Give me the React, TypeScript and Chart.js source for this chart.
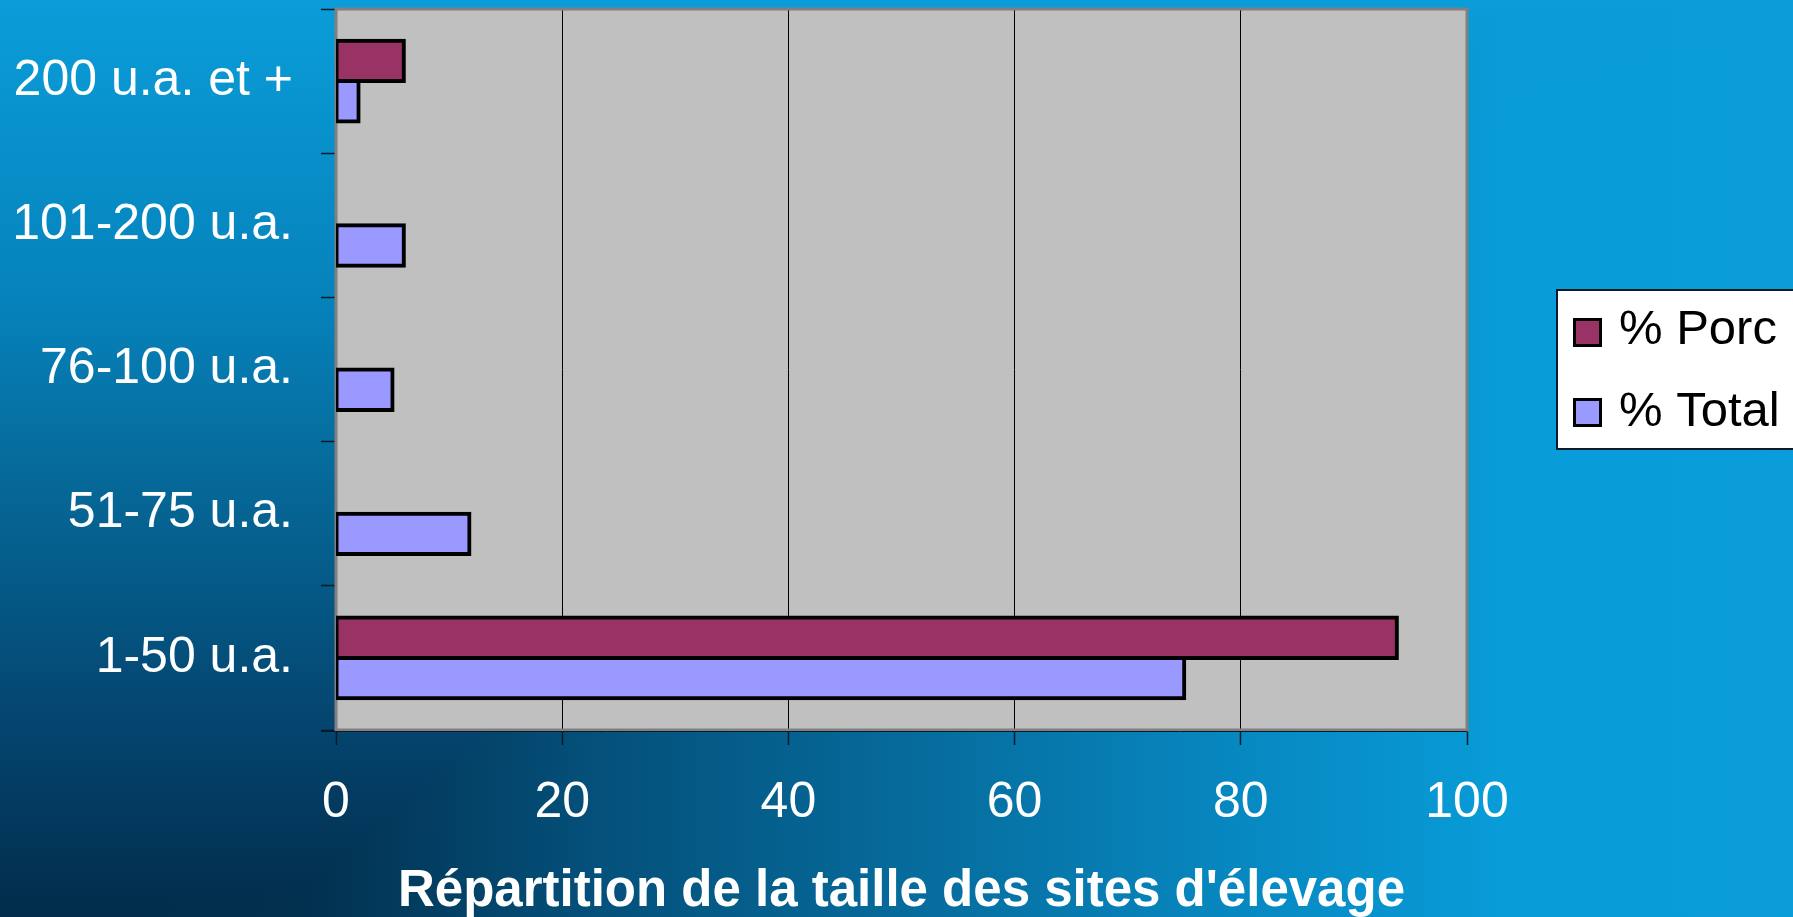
import React, { useEffect, useRef } from "react";
import { Chart, registerables } from "chart.js";

Chart.register(...registerables);

// ---------- data ----------
const categories = ["200 u.a. et +", "101-200 u.a.", "76-100 u.a.", "51-75 u.a.", "1-50 u.a."];
const porcValues: (number | null)[] = [6, null, null, null, 93.8];
const totalValues: (number | null)[] = [2, 6, 5, 11.8, 75];
const seriesLabels = ["% Porc", "% Total"];
const seriesColors = ["#993366", "#9999FF"];
const xTicks = [0, 20, 40, 60, 80, 100];
const axisTitle = "Répartition de la taille des sites d'élevage";

// ---------- layout constants ----------
const W = 1793;
const H = 917;
const FONT = "'Liberation Sans', Arial, sans-serif";

const bgPlugin = {
  id: "slideBackground",
  beforeDraw(chart: any) {
    const { ctx, chartArea: a } = chart;
    ctx.save();
    const vg = ctx.createLinearGradient(0, 0, 0, H);
    vg.addColorStop(0, "#0a9dd9");
    vg.addColorStop(0.33, "#0682bb");
    vg.addColorStop(0.5, "#066c9c");
    vg.addColorStop(0.66, "#055683");
    vg.addColorStop(0.82, "#04416a");
    vg.addColorStop(1, "#022c4a");
    ctx.fillStyle = vg;
    ctx.fillRect(0, 0, W, H);
    ctx.globalCompositeOperation = "lighten";
    const hg = ctx.createLinearGradient(0, 0, W, 0);
    hg.addColorStop(0, "#022c4a");
    hg.addColorStop(0.17, "#02304f");
    hg.addColorStop(0.33, "#04507a");
    hg.addColorStop(0.5, "#066a9a");
    hg.addColorStop(0.67, "#0785bd");
    hg.addColorStop(0.84, "#089cd8");
    hg.addColorStop(1, "#0a9dd9");
    ctx.fillStyle = hg;
    ctx.fillRect(0, 0, W, H);
    ctx.globalCompositeOperation = "source-over";
    ctx.fillStyle = "#C0C0C0";
    ctx.fillRect(a.left, a.top, a.right - a.left, a.bottom - a.top);
    ctx.restore();
  },
  beforeDatasetsDraw(chart: any) {
    const { ctx, chartArea: a } = chart;
    ctx.save();
    ctx.strokeStyle = "#808080";
    ctx.lineWidth = 3;
    ctx.strokeRect(a.left, a.top, a.right - a.left, a.bottom - a.top);
    ctx.strokeStyle = "#0a1a28";
    ctx.lineWidth = 1;
    ctx.beginPath();
    ctx.moveTo(a.left - 15, a.bottom + 1.5);
    ctx.lineTo(a.right, a.bottom + 1.5);
    ctx.stroke();
    ctx.restore();
  },
  afterDraw(chart: any) {
    const { ctx } = chart;
    ctx.save();
    // legend box
    ctx.fillStyle = "#ffffff";
    ctx.fillRect(1557, 290, 300, 159);
    ctx.strokeStyle = "#0a1a28";
    ctx.lineWidth = 2;
    ctx.strokeRect(1557, 290, 300, 159);
    const rows = [
      { y: 318, base: 344 },
      { y: 398, base: 426 },
    ];
    chart.data.datasets.forEach((ds: any, i: number) => {
      const r = rows[i];
      ctx.fillStyle = "#000";
      ctx.fillRect(1573, r.y, 29, 29);
      ctx.fillStyle = ds.backgroundColor;
      ctx.fillRect(1576, r.y + 3, 23, 23);
      ctx.fillStyle = "#000";
      ctx.font = `49px ${FONT}`;
      ctx.textBaseline = "alphabetic";
      ctx.textAlign = "left";
      ctx.fillText(ds.label, 1619, r.base);
    });
    ctx.restore();
  },
};

export default function App() {
  const ref = useRef<HTMLCanvasElement | null>(null);

  useEffect(() => {
    if (!ref.current) return;
    const chart = new Chart(ref.current, {
      type: "bar",
      data: {
        labels: categories,
        datasets: [
          {
            label: seriesLabels[0],
            data: porcValues,
            backgroundColor: seriesColors[0],
            borderColor: "#000",
            borderWidth: 4,
            borderSkipped: false,
            inflateAmount: 2,
            categoryPercentage: 0.56,
            barPercentage: 1,
          },
          {
            label: seriesLabels[1],
            data: totalValues,
            backgroundColor: seriesColors[1],
            borderColor: "#000",
            borderWidth: 4,
            borderSkipped: false,
            inflateAmount: 2,
            categoryPercentage: 0.56,
            barPercentage: 1,
          },
        ],
      } as any,
      options: {
        indexAxis: "y",
        responsive: false,
        animation: false,
        devicePixelRatio: 1,
        layout: { padding: { top: 9, right: W - 1467, left: 0, bottom: 0 } },
        plugins: {
          legend: { display: false },
          tooltip: { enabled: false },
          title: { display: false },
        },
        scales: {
          x: {
            type: "linear",
            position: "bottom",
            min: 0,
            max: 100,
            afterBuildTicks: (scale: any) => {
              scale.ticks = xTicks.map((v) => ({ value: v }));
            },
            afterFit: (scale: any) => {
              scale.height = H - 730;
              scale.paddingLeft = 0;
              scale.paddingRight = 0;
            },
            border: { display: false },
            grid: {
              color: (c: any) =>
                c.tick && (c.tick.value === 0 || c.tick.value === 100) ? "rgba(0,0,0,0)" : "#000",
              lineWidth: 1,
              tickLength: 15,
              tickColor: "#0a1a28",
              tickWidth: 1.5,
            },
            ticks: {
              color: "#ffffff",
              font: { family: FONT, size: 50 },
              padding: 28,
              maxRotation: 0,
            },
            title: {
              display: true,
              text: axisTitle,
              color: "#ffffff",
              font: { family: FONT, size: 51, weight: "bold", lineHeight: 1 },
              padding: 0,
            },
          },
          y: {
            type: "category",
            afterFit: (scale: any) => {
              scale.width = 336;
              scale.paddingTop = 0;
              scale.paddingBottom = 0;
            },
            border: { display: false },
            grid: {
              drawOnChartArea: false,
              drawTicks: true,
              tickLength: 15,
              tickColor: "#0a1a28",
              tickWidth: 1.5,
            },
            ticks: {
              color: "#ffffff",
              font: { family: FONT, size: 50 },
              padding: 28,
            },
          },
        },
      } as any,
      plugins: [bgPlugin],
    });
    return () => chart.destroy();
  }, []);

  return (
    <div style={{ position: "fixed", left: 0, top: 0, width: W, height: H, overflow: "hidden" }}>
      <canvas ref={ref} width={W} height={H} style={{ display: "block", width: W, height: H }} />
    </div>
  );
}
